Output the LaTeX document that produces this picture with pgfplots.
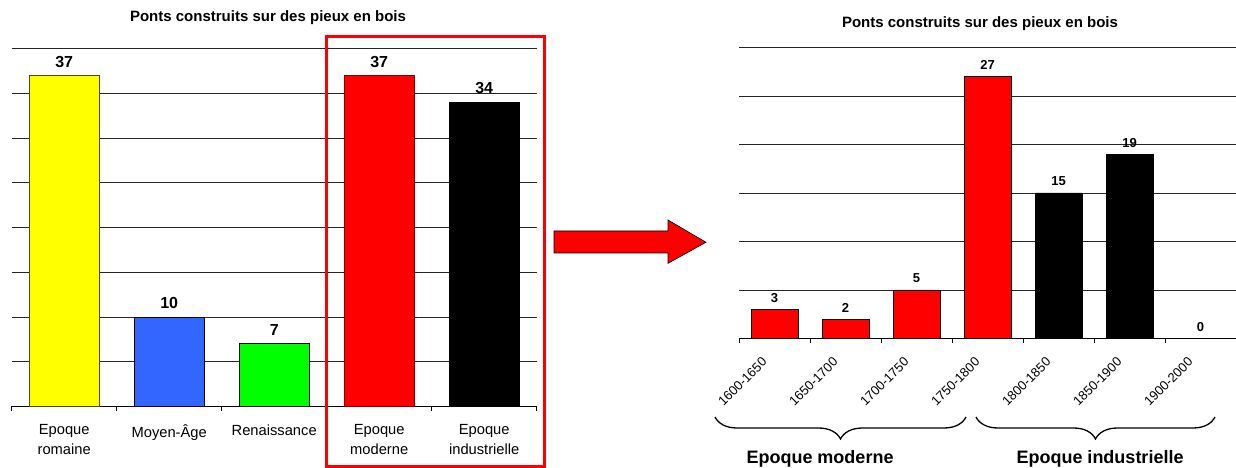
\documentclass[border=0pt]{standalone}
\usepackage{fontspec}
\setmainfont{Liberation Sans}
\usepackage{pgfplots}
\pgfplotsset{compat=1.18}
\usetikzlibrary{decorations.pathreplacing}
\definecolor{xlyellow}{RGB}{255,255,0}
\definecolor{xlblue}{RGB}{51,102,255}
\definecolor{xlgreen}{RGB}{0,255,0}
\definecolor{xlred}{RGB}{255,0,0}
\begin{document}
\begin{tikzpicture}[x=1pt,y=1pt]
\useasboundingbox (0,0) rectangle (1236,468);
\pgfplotsset{
  common/.style={
    scale only axis, anchor=south west,
    /pgf/number format/assume math mode=true,
    axis x line*=bottom, axis y line*=left,
    y axis line style={draw=none},
    ytick style={draw=none}, yticklabels={},
    ymajorgrids, grid style={black!85, line width=0.8pt},
    x axis line style={black, line width=0.9pt},
    major tick length=0pt,
    minor tick length=4.5pt, tick align=outside,
    minor x tick style={black, line width=0.9pt},
    ymin=0, clip=false,
  },
  lbar/.style={ybar, bar width=70pt, bar shift=0pt, line width=0.8pt},
  rbar/.style={ybar, bar width=47pt, bar shift=0pt, line width=0.8pt},
}
% ---------- left chart ----------
\begin{axis}[common, at={(11.7pt,61.5pt)}, width=525pt, height=358pt,
  xmin=-0.5, xmax=4.5, ymax=40, ytick={0,5,...,40},
  xtick={0,1,2,3,4},
  xticklabels={{Epoque\\romaine},{Moyen-Âge},{Renaissance},{Epoque\\moderne},{Epoque\\industrielle}},
  minor xtick={-0.5,0.5,1.5,2.5,3.5,4.5},
  xticklabel style={align=center, font=\fontsize{14.7}{19.3}\selectfont, inner sep=0pt, yshift=-18pt},
  nodes near coords,
  nodes near coords style={font=\bfseries\fontsize{16}{19}\selectfont, anchor=base, inner sep=0pt, yshift=8.3pt},
]
\addplot[lbar, fill=xlyellow, draw=black!70!xlyellow] coordinates {(0,37)};
\addplot[lbar, fill=xlblue, draw=black] coordinates {(1,10)};
\addplot[lbar, fill=xlgreen, draw=black] coordinates {(2,7)};
\addplot[lbar, fill=xlred, draw=xlred!50!black] coordinates {(3,37)};
\addplot[lbar, fill=black, draw=black] coordinates {(4,34)};
\end{axis}
% ---------- right chart ----------
\begin{axis}[common, at={(739pt,129.5pt)}, width=497pt, height=291pt,
  xmin=-0.5, xmax=6.5, ymax=30, ytick={0,5,...,30},
  xtick={0,1,2,3,4,5,6},
  xticklabels={1600-1650,1650-1700,1700-1750,1750-1800,1800-1850,1850-1900,1900-2000},
  minor xtick={-0.5,0.5,1.5,2.5,3.5,4.5,5.5},
  xticklabel style={font=\fontsize{13}{15}\selectfont, inner sep=0pt, xshift=-10pt, yshift=-21pt, rotate=45, anchor=east},
  nodes near coords,
  nodes near coords style={font=\bfseries\fontsize{13}{15}\selectfont, anchor=base, inner sep=0pt, yshift=7pt},
]
\addplot[rbar, fill=xlred, draw=black] coordinates {(0,3) (1,2) (2,5) (3,27)};
\addplot[rbar, fill=black, draw=black] coordinates {(4,15) (5,19)};
\addplot[rbar, fill=none, draw=none] coordinates {(6,0)};
\end{axis}
% ---------- titles ----------
\node[font=\bfseries\fontsize{15}{18}\selectfont, anchor=base] at (268,446.3) {Ponts construits sur des pieux en bois};
\node[font=\bfseries\fontsize{15}{18}\selectfont, anchor=base] at (980,440.3) {Ponts construits sur des pieux en bois};
% ---------- red frame ----------
\draw[xlred, line width=3pt] (326.7,431) rectangle (544,1.5);
% ---------- arrow ----------
\filldraw[fill=xlred, draw=black, line width=0.6pt] (554,237) -- (668,237) -- (668,248) -- (706,225.7) -- (668,204.7) -- (668,215) -- (554,215) -- cycle;
% ---------- braces ----------
\draw[line width=1.3pt, decorate, decoration={brace, mirror, amplitude=22pt}] (715,51) -- (966,51);
\draw[line width=1.3pt, decorate, decoration={brace, mirror, amplitude=22pt}] (976,51) -- (1215,51);
\node[font=\bfseries\fontsize{18}{21}\selectfont, anchor=base] at (820,4) {Epoque moderne};
\node[font=\bfseries\fontsize{18}{21}\selectfont, anchor=base] at (1100,4) {Epoque industrielle};
\end{tikzpicture}
\end{document}
